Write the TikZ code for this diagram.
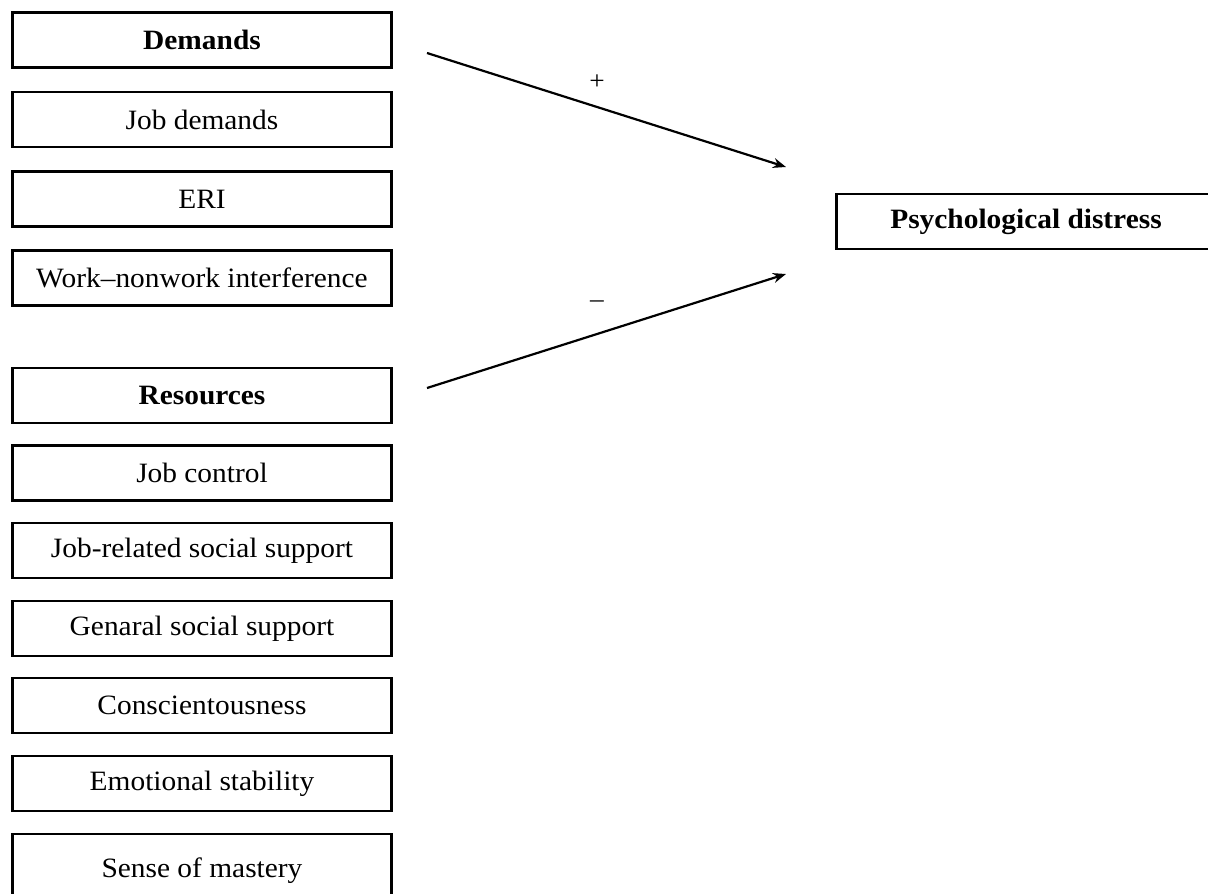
\documentclass[tikz,border=0pt]{standalone}
\usepackage{fontspec}
\setmainfont[FakeStretch=1.05]{Liberation Serif}
\usetikzlibrary{arrows.meta}
\begin{document}
\begin{tikzpicture}[x=1pt,y=-1pt,
  box/.style={draw=black, line width=2.2pt, rectangle, minimum width=379pt, minimum height=55pt, inner sep=0pt, font=\fontsize{28}{32}\selectfont},
  conn/.style={line width=2.2pt, -{Stealth[length=13pt,width=10pt]}},
  sign/.style={font=\fontsize{26}{30}\selectfont}]
\useasboundingbox (0,0) rectangle (1208,894);
\node[box] (dem) at (202,40) {\textbf{Demands}};
\node[box] (jd) at (202,119.5) {Job demands};
\node[box] (eri) at (202,199) {ERI};
\node[box] (wn) at (202,278) {Work–nonwork interference};
\node[box] (res) at (202,395.5) {\textbf{Resources}};
\node[box] (jc) at (202,473) {Job control};
\node[box] (jrs) at (202,550.5) {Job-related social support};
\node[box] (gss) at (202,628.5) {Genaral social support};
\node[box] (con) at (202,705.5) {Conscientousness};
\node[box] (emo) at (202,783.5) {Emotional stability};
\node[box, minimum height=74pt] (som) at (202,871) {Sense of mastery};
\node[box] (pd) at (1026,221.5) {\textbf{Psychological distress}};
\coordinate (a1s) at (427,53);
\coordinate (a1e) at (786,167);
\coordinate (a2s) at (427,388);
\coordinate (a2e) at (786,274);
\draw[conn] (a1s) -- (a1e);
\draw[conn] (a2s) -- (a2e);
\node[sign] (plus) at (597,82) {+};
\node[sign] (minus) at (597,304) {–};
\end{tikzpicture}
\end{document}
